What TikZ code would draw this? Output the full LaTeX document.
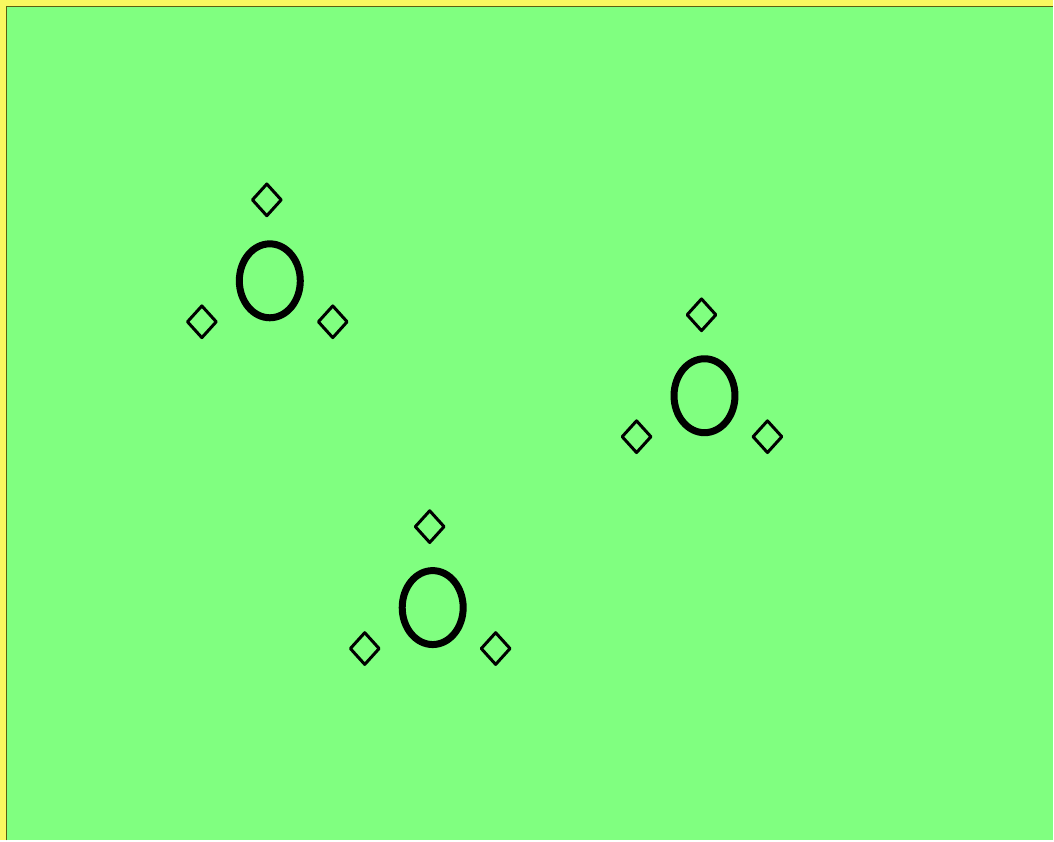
\documentclass[tikz,border=0pt]{standalone}
\usetikzlibrary{shapes.geometric, positioning}
\definecolor{fieldgreen}{RGB}{128,255,128}
\definecolor{rimyellow}{RGB}{248,248,96}
\definecolor{rimolive}{RGB}{90,96,16}
\tikzset{
    core/.style={
        ellipse,
        draw=black,
        line width=7pt,
        inner sep=0pt,
        minimum width=61pt,
        minimum height=74pt
    },
    tip/.style={
        diamond,
        draw=black,
        line width=3pt,
        line join=round,
        inner sep=0pt,
        minimum width=30pt,
        minimum height=33pt
    }
}
\begin{document}
\begin{tikzpicture}[x=1pt, y=-1pt]

    % frame and field
    \fill[rimyellow] (0,0) rectangle (1054,841);
    \fill[fieldgreen] (7,7) rectangle (1054,841);
    \draw[rimolive, line width=1.5pt] (6.5,841) -- (6.5,6.5) -- (1054,6.5);
    \useasboundingbox (0,0) rectangle (1054,841);

    % the three groups
    \foreach \g/\x/\y in {a/270/281, b/705/396, c/433/608} {
        \node[core] (c\g) at (\x,\y) {};
        \node[tip] (t\g) at (\x-3,\y-81) {};
        \node[tip] (l\g) at (\x-68,\y+41) {};
        \node[tip] (r\g) at (\x+63,\y+41) {};
    }

\end{tikzpicture}
\end{document}
